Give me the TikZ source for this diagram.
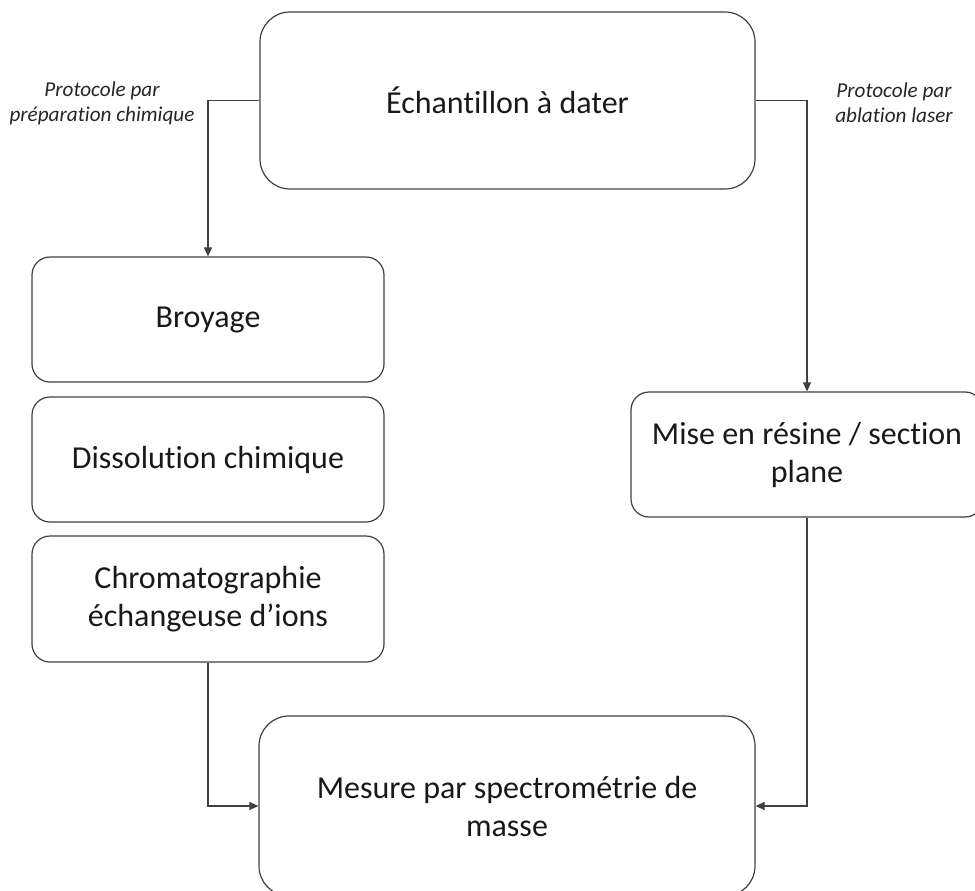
\documentclass[tikz,border=0pt]{standalone}
\usepackage{fontspec}
\setmainfont{Carlito}[Ligatures={NoCommon}]
\usetikzlibrary{arrows.meta}
\begin{document}
\begin{tikzpicture}[x=1pt,y=-1pt,
  box/.style={draw=black!75, line width=1.2pt, rounded corners=18pt, align=center, inner sep=0pt, text=black!90, font=\fontsize{32}{38}\selectfont},
  bigbox/.style={box, rounded corners=30pt},
  conn/.style={draw=black!75, line width=1.2pt, -{Triangle[length=9pt,width=8pt]}},
  lab/.style={font=\fontsize{21.2}{25}\selectfont\itshape, text=black!85, align=center, inner sep=0pt}]
\clip (0,0) rectangle (975,891);
\node[bigbox, minimum width=495pt, minimum height=177pt] (ech) at (507.5,100.5) {Échantillon à dater};
\node[box, minimum width=352pt, minimum height=125pt] (broy) at (208,319.5) {Broyage};
\node[box, minimum width=352pt, minimum height=125pt] (diss) at (208,459.5) {Dissolution chimique};
\node[box, minimum width=352pt, minimum height=126pt] (chrom) at (208,599) {Chromatographie\\échangeuse d’ions};
\node[box, minimum width=352pt, minimum height=125pt] (mise) at (807,454.5) {Mise en résine / section\\plane};
\node[bigbox, minimum width=496pt, minimum height=180pt] (mes) at (507,806) {Mesure par spectrométrie de\\masse};
\node[lab] (labl) at (102,103) {Protocole par\\préparation chimique};
\node[lab] (labr) at (894,103) {Protocole par\\ablation laser};
\draw[conn] (ech.west) -| (broy.north);
\draw[conn] (ech.east) -| (mise.north);
\draw[conn] (chrom.south) |- (mes.west);
\draw[conn] (mise.south) |- (mes.east);
\end{tikzpicture}
\end{document}
